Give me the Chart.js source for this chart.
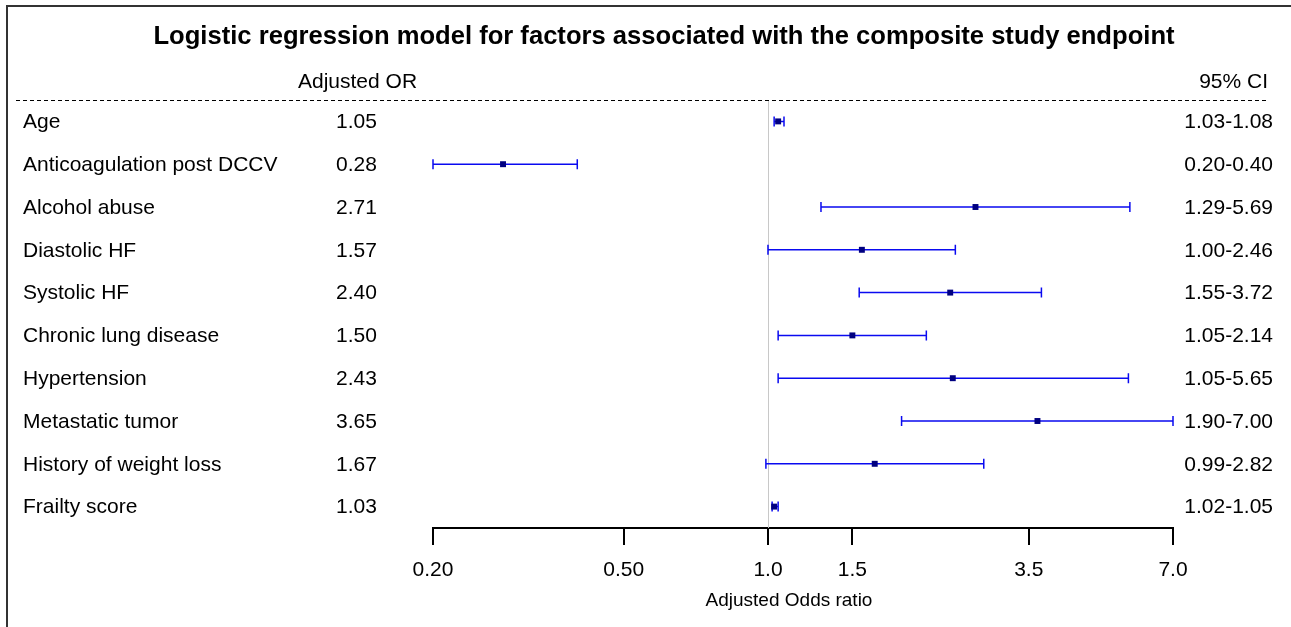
<!DOCTYPE html>
<html>
<head>
<meta charset="utf-8">
<script src="https://cdn.jsdelivr.net/npm/chart.js@4.4.1/dist/chart.umd.min.js"></script>
<style>
  html, body { margin: 0; padding: 0; background: #fff; }
  #wrap { position: relative; width: 1291px; height: 627px; }
  #frame { position: absolute; left: 6px; top: 5px; right: 0; bottom: 0;
           border-top: 2px solid #333; border-left: 2px solid #333; pointer-events: none; }
</style>
</head>
<body>
<div id="wrap">
  <canvas id="forest" width="1291" height="627"></canvas>
  <div id="frame"></div>
</div>
<script>
// Data
const factors = ['Age', 'Anticoagulation post DCCV', 'Alcohol abuse', 'Diastolic HF', 'Systolic HF',
  'Chronic lung disease', 'Hypertension', 'Metastatic tumor', 'History of weight loss', 'Frailty score'];
const oddsRatios = [1.05, 0.28, 2.71, 1.57, 2.40, 1.50, 2.43, 3.65, 1.67, 1.03];
const ciLower = [1.03, 0.20, 1.29, 1.00, 1.55, 1.05, 1.05, 1.90, 0.99, 1.02];
const ciUpper = [1.08, 0.40, 5.69, 2.46, 3.72, 2.14, 5.65, 7.00, 2.82, 1.05];
const axisTicks = [0.2, 0.5, 1.0, 1.5, 3.5, 7.0];
const tickLabels = ['0.20', '0.50', '1.0', '1.5', '3.5', '7.0'];

const FONT = '"Liberation Sans", Arial, sans-serif';
const TITLE = 'Logistic regression model for factors associated with the composite study endpoint';

// Draws the error bars, reference line and table text around the plot
const forestPlugin = {
  id: 'forest',
  beforeDatasetsDraw(chart) {
    const { ctx, chartArea, scales: { x, y } } = chart;
    ctx.save();
    // reference line at OR = 1
    ctx.strokeStyle = '#c8c8c8';
    ctx.lineWidth = 1;
    const x1 = Math.round(x.getPixelForValue(1)) + 0.5;
    ctx.beginPath();
    ctx.moveTo(x1, chartArea.top);
    ctx.lineTo(x1, chartArea.bottom);
    ctx.stroke();

    // confidence intervals
    ctx.strokeStyle = '#0a0af0';
    ctx.lineWidth = 1.5;
    factors.forEach((f, i) => {
      const yy = y.getPixelForValue(i);
      const xl = x.getPixelForValue(ciLower[i]);
      const xu = x.getPixelForValue(ciUpper[i]);
      ctx.beginPath();
      ctx.moveTo(xl, yy);
      ctx.lineTo(xu, yy);
      ctx.moveTo(xl, yy - 5);
      ctx.lineTo(xl, yy + 5);
      ctx.moveTo(xu, yy - 5);
      ctx.lineTo(xu, yy + 5);
      ctx.stroke();
    });
    ctx.restore();
  },
  afterDraw(chart) {
    const { ctx, chartArea, scales: { y } } = chart;
    ctx.save();
    ctx.fillStyle = '#000';
    ctx.textBaseline = 'middle';

    // title, sized to span about 1020px
    ctx.font = 'bold 20px ' + FONT;
    const tSize = 20 * 1020 / ctx.measureText(TITLE).width;
    ctx.font = 'bold ' + tSize.toFixed(1) + 'px ' + FONT;
    ctx.textAlign = 'center';
    ctx.fillText(TITLE, 664, 37);

    ctx.font = '21px ' + FONT;
    ctx.textAlign = 'left';
    ctx.fillText('Adjusted OR', 298, 82);
    ctx.textAlign = 'right';
    ctx.fillText('95% CI', 1268, 82);

    // dashed header rule
    ctx.strokeStyle = '#000';
    ctx.lineWidth = 1;
    ctx.setLineDash([4, 3]);
    ctx.beginPath();
    ctx.moveTo(16, chartArea.top + 0.5);
    ctx.lineTo(1268, chartArea.top + 0.5);
    ctx.stroke();
    ctx.setLineDash([]);

    factors.forEach((f, i) => {
      const yy = y.getPixelForValue(i) + 1;
      ctx.textAlign = 'left';
      ctx.fillText(f, 23, yy);
      ctx.fillText(oddsRatios[i].toFixed(2), 336, yy);
      ctx.textAlign = 'right';
      ctx.fillText(ciLower[i].toFixed(2) + '-' + ciUpper[i].toFixed(2), 1273, yy);
    });

    ctx.textAlign = 'center';
    ctx.font = '19px ' + FONT;
    ctx.fillText('Adjusted Odds ratio', 789, 601);
    ctx.restore();
  }
};

new Chart(document.getElementById('forest'), {
  type: 'scatter',
  data: {
    datasets: [{
      data: factors.map((f, i) => ({ x: oddsRatios[i], y: i })),
      pointStyle: 'rect',
      pointRadius: 4.2,
      pointBackgroundColor: '#000080',
      pointBorderColor: '#000080',
      pointBorderWidth: 0
    }]
  },
  options: {
    responsive: false,
    animation: false,
    events: [],
    layout: { padding: { top: 100, left: 433, right: 118, bottom: 0 } },
    plugins: { legend: { display: false }, tooltip: { enabled: false } },
    scales: {
      x: {
        type: 'logarithmic',
        min: 0.2,
        max: 7,
        afterBuildTicks(scale) {
          scale.ticks = axisTicks.map(v => ({ value: v }));
        },
        afterFit(scale) { scale.height = 99; },
        border: { display: true, color: '#000', width: 2 },
        grid: { drawOnChartArea: false, drawTicks: true, tickLength: 17, color: '#000', lineWidth: 2 },
        ticks: {
          autoSkip: false,
          maxRotation: 0,
          padding: 13,
          color: '#000',
          font: { family: FONT, size: 21 },
          callback: (v, i) => tickLabels[i]
        }
      },
      y: {
        display: false,
        min: -0.5,
        max: 9.5,
        reverse: true
      }
    }
  },
  plugins: [forestPlugin]
});
</script>
</body>
</html>
